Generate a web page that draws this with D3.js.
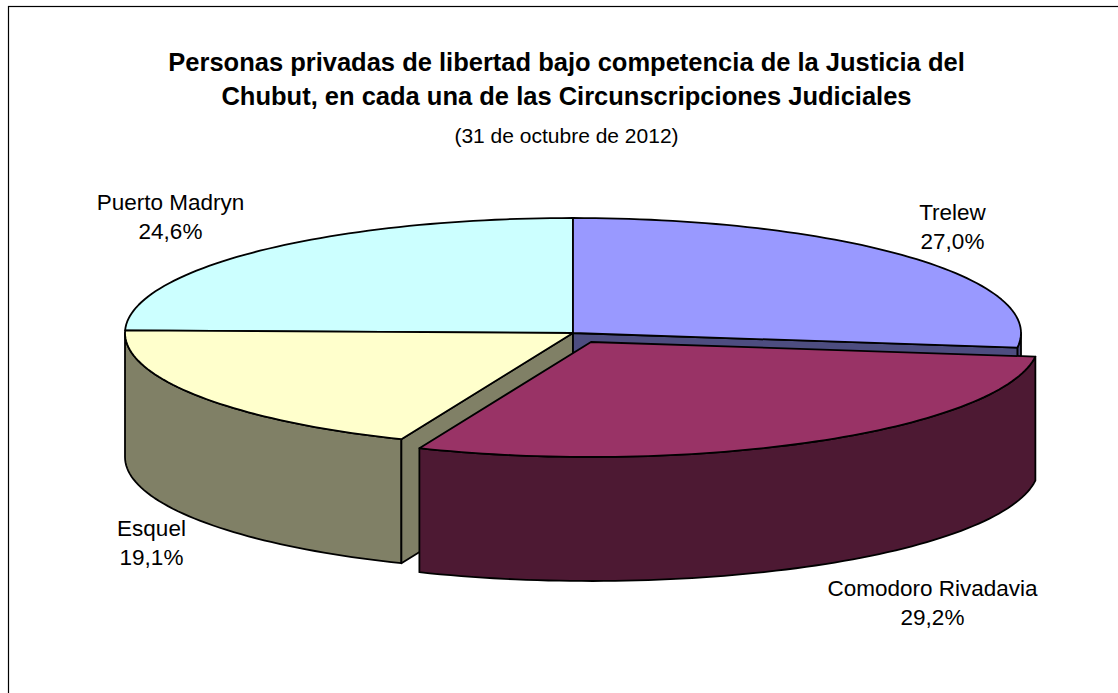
<!DOCTYPE html>
<html><head><meta charset="utf-8">
<script src="https://cdn.jsdelivr.net/npm/d3@7"></script>
<style>html,body{margin:0;padding:0;background:#fff}svg{display:block}text{font-family:"Liberation Sans",Arial,sans-serif;fill:#000}</style>
</head><body><svg id="c" width="1118" height="693"></svg>
<script>
const categories = ["Trelew","Comodoro Rivadavia","Esquel","Puerto Madryn"];
const shares = [27.0,29.2,19.1,24.6];
const shareLabels = ["27,0%","29,2%","19,1%","24,6%"];
const topColors = ["#9999FF","#993366","#FFFFCC","#CCFFFF"];
const wallColors = ["#4D4D80","#4D1933","#808066","#668080"];
const titleLines = ["Personas privadas de libertad bajo competencia de la Justicia del","Chubut, en cada una de las Circunscripciones Judiciales"];
const subtitle = "(31 de octubre de 2012)";

const W=1118,H=693;
const svg=d3.select("#c");
svg.append("rect").attr("x",8.5).attr("y",6.5).attr("width",W).attr("height",H).attr("fill","#fff").attr("stroke","#000").attr("stroke-width",1.2);

const pie=d3.pie().sort(null).value(d=>d)(shares);
const cx=573,cy=333,rx=448,ry=115,depth=124;
const X=d3.scaleLinear().domain([-1,1]).range([cx-rx,cx+rx]);
const Y=d3.scaleLinear().domain([-1,1]).range([cy-ry,cy+ry]);
const explode=[[0,0],[18,9],[0,0],[0,0]];
const line=d3.line();
const pt=(a,dz,o)=>[X(Math.sin(a))+o[0],Y(-Math.cos(a))+dz+o[1]];
function arcPts(a0,a1,dz,o){const n=Math.max(2,Math.ceil((a1-a0)*40));
  return d3.range(n+1).map(i=>pt(a0+(a1-a0)*i/n,dz,o));}
const g=svg.append("g").attr("stroke","#000").attr("stroke-width",1.8).attr("stroke-linejoin","round");
const face=(pts,fill)=>g.append("path").attr("d",line(pts)+"Z").attr("fill",fill);
const apex=(dz,o)=>[cx+o[0],cy+dz+o[1]];

function outerWall(i){const s=pie[i],o=explode[i];
  const a0=Math.max(s.startAngle,Math.PI/2),a1=Math.min(s.endAngle,3*Math.PI/2);
  if(a1<=a0)return;
  face(arcPts(a0,a1,0,o).concat(arcPts(a0,a1,depth,o).reverse()),wallColors[i]);}
function topFace(i){const s=pie[i],o=explode[i];
  face([apex(0,o)].concat(arcPts(s.startAngle,s.endAngle,0,o)),topColors[i]);}
function cut(a,i){const o=explode[i];
  face([apex(0,o),pt(a,0,o),pt(a,depth,o),apex(depth,o)],wallColors[i]);}

topFace(3);
outerWall(2);
cut(pie[2].startAngle,2);
topFace(2);
outerWall(0);
cut(pie[0].endAngle,0);
topFace(0);
outerWall(1);
topFace(1);

const title=svg.append("g").attr("text-anchor","middle");
titleLines.forEach((t,i)=>title.append("text").attr("x",566.5).attr("y",[71,105][i]).attr("font-size",25.5).attr("font-weight","bold").text(t));
title.append("text").attr("x",566.5).attr("y",143).attr("font-size",21).text(subtitle);

const labelPos=[[952.5,220],[932.5,596],[151.5,536],[170.5,210]];
const lab=svg.append("g").attr("text-anchor","middle").attr("font-size",22.5);
categories.forEach((c,i)=>{
  lab.append("text").attr("x",labelPos[i][0]).attr("y",labelPos[i][1]).text(c);
  lab.append("text").attr("x",labelPos[i][0]).attr("y",labelPos[i][1]+29).text(shareLabels[i]);
});
</script></body></html>
